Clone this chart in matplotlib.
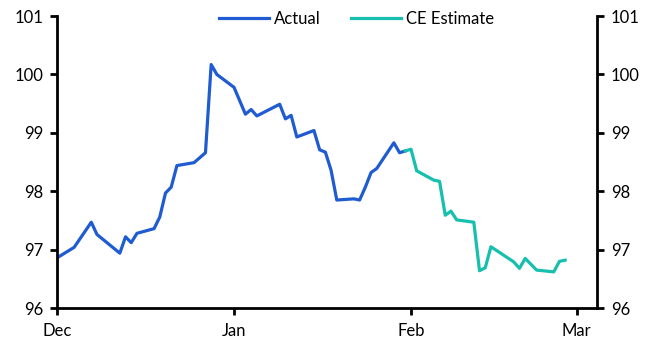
import matplotlib
matplotlib.use('Agg')
import matplotlib.pyplot as plt
import pandas as pd

plt.rcParams['font.family'] = ['Lato', 'DejaVu Sans']

# Data (dates and index levels)
actual_dates = ['2023-12-01', '2023-12-04', '2023-12-07', '2023-12-08', '2023-12-12',
                '2023-12-13', '2023-12-14', '2023-12-15', '2023-12-18', '2023-12-19',
                '2023-12-20', '2023-12-21', '2023-12-22', '2023-12-25', '2023-12-27',
                '2023-12-28', '2023-12-29', '2024-01-01', '2024-01-03', '2024-01-04',
                '2024-01-05', '2024-01-09', '2024-01-10', '2024-01-11', '2024-01-12',
                '2024-01-15', '2024-01-16', '2024-01-17', '2024-01-18', '2024-01-19',
                '2024-01-22', '2024-01-23', '2024-01-24', '2024-01-25', '2024-01-26',
                '2024-01-29', '2024-01-30', '2024-01-31']
actual_values = [96.86, 97.04, 97.47, 97.26, 96.94,
                 97.22, 97.12, 97.28, 97.36, 97.56,
                 97.97, 98.07, 98.44, 98.49, 98.66,
                 100.17, 100.00, 99.78, 99.32, 99.40,
                 99.29, 99.49, 99.24, 99.30, 98.93,
                 99.04, 98.71, 98.67, 98.36, 97.85,
                 97.87, 97.85, 98.07, 98.32, 98.39,
                 98.83, 98.66, 98.69]

estimate_dates = ['2024-01-31', '2024-02-01', '2024-02-02', '2024-02-05', '2024-02-06',
                  '2024-02-07', '2024-02-08', '2024-02-09', '2024-02-12', '2024-02-13',
                  '2024-02-14', '2024-02-15', '2024-02-19', '2024-02-20', '2024-02-21',
                  '2024-02-23', '2024-02-26', '2024-02-27', '2024-02-28']
estimate_values = [98.69, 98.72, 98.35, 98.19, 98.17,
                   97.59, 97.66, 97.51, 97.47, 96.64,
                   96.69, 97.05, 96.79, 96.68, 96.85,
                   96.65, 96.62, 96.80, 96.82]

tick_dates = ['2023-12-01', '2024-01-01', '2024-02-01', '2024-03-01']
tick_labels = ['Dec', 'Jan', 'Feb', 'Mar']

fig = plt.figure(figsize=(6.63, 3.62), dpi=100)
ax = fig.add_axes([0.086, 0.149, 0.8145, 0.8066])

ax.plot(pd.to_datetime(actual_dates), actual_values, color='#1f5bd1', lw=2.3, label='Actual')
ax.plot(pd.to_datetime(estimate_dates), estimate_values, color='#17bfae', lw=2.3, label='CE Estimate')

ax.set_ylim(96, 101)
ax.set_xlim(pd.Timestamp('2023-12-01'), pd.Timestamp('2024-03-04 14:00'))
ax.set_xticks(pd.to_datetime(tick_dates))
ax.set_xticklabels(tick_labels)
ax.set_yticks(range(96, 102))

ax.spines['top'].set_visible(False)
for s in ['left', 'right', 'bottom']:
    ax.spines[s].set_linewidth(2)
ax.tick_params(axis='both', direction='out', length=5, width=2, labelsize=12)
ax.tick_params(axis='y', right=True, labelright=True, pad=5)
ax.tick_params(axis='x', pad=6)

ax.legend(loc='center', bbox_to_anchor=(0.555, 0.99), ncol=2, frameon=False,
          fontsize=12, handlelength=3, handletextpad=0.3, columnspacing=1.8)

plt.savefig('out.png', dpi=100)
